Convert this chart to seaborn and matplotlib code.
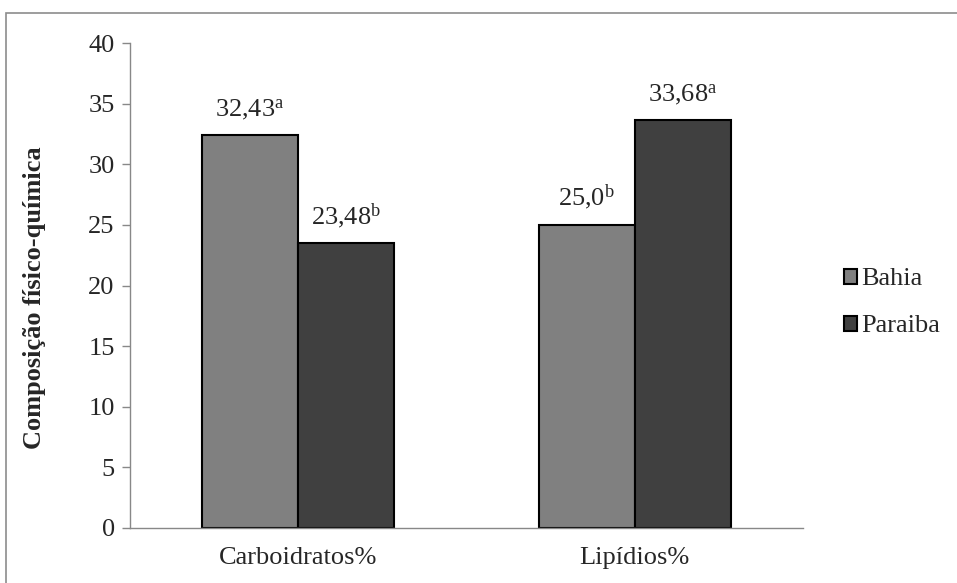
import matplotlib
matplotlib.use("Agg")
import matplotlib.pyplot as plt
from matplotlib.patches import Rectangle
import seaborn as sns
import pandas as pd

categories = ["Carboidratos%", "Lipídios%"]
bahia = [32.43, 25.0]
paraiba = [23.48, 33.68]
bahia_letters = ["a", "b"]
paraiba_letters = ["b", "a"]
bahia_text = ["32,43", "25,0"]
paraiba_text = ["23,48", "33,68"]
regions = ["Bahia", "Paraiba"]
colors = ["#808080", "#404040"]

df = pd.DataFrame({
    "categoria": categories * 2,
    "regiao": [regions[0]] * 2 + [regions[1]] * 2,
    "valor": bahia + paraiba,
})

sns.set_style("white")
plt.rcParams["font.family"] = ["Liberation Serif", "DejaVu Serif"]
plt.rcParams["mathtext.fontset"] = "custom"
plt.rcParams["mathtext.rm"] = "Liberation Serif"
plt.rcParams["mathtext.it"] = "Liberation Serif"

FS = 19

fig = plt.figure(figsize=(9.57, 5.83), dpi=100)
ax = fig.add_axes([130 / 957, 1 - 528 / 583, (803 - 130) / 957, (528 - 43) / 583])

sns.barplot(data=df, x="categoria", y="valor", hue="regiao", hue_order=regions,
            palette=colors, width=0.572, gap=0, edgecolor="black", linewidth=1.5,
            saturation=1, ax=ax, legend=True)

ax.set_ylim(0, 40)
ax.set_xlim(-0.5, 1.5)
ax.set_yticks(range(0, 41, 5))
ax.tick_params(axis="y", labelsize=FS, left=True, length=6, width=1, color="#888888", pad=5)
ax.tick_params(axis="x", labelsize=FS, bottom=False, pad=10)
ax.set_xlabel("")
ax.set_ylabel("Composição físico-química", fontsize=FS, fontweight="bold")
ax.yaxis.set_label_coords(-0.125, 0.475)

for s in ["top", "right"]:
    ax.spines[s].set_visible(False)
for s in ["left", "bottom"]:
    ax.spines[s].set_color("#888888")
    ax.spines[s].set_linewidth(1)

# value labels with significance letters
labels = {regions[0]: (bahia_text, bahia_letters), regions[1]: (paraiba_text, paraiba_letters)}
for container, reg in zip(ax.containers, regions):
    texts, letters = labels[reg]
    for bar, t, l in zip(container, texts, letters):
        x = bar.get_x() + bar.get_width() / 2
        y = bar.get_height()
        ax.annotate(t + r"$^{\mathrm{" + l + "}}$", (x, y), xytext=(0, 9),
                    textcoords="offset points", ha="center", va="bottom", fontsize=FS)

leg = ax.legend(loc="center left", bbox_to_anchor=(1.045, 0.464), frameon=False,
                fontsize=FS, handlelength=0.5, handleheight=0.5, handletextpad=0.15,
                labelspacing=0.95, borderaxespad=0)

fig.patches.append(Rectangle((6 / 957, -0.1), 1.2, 1 - 13 / 583 + 0.1,
                             transform=fig.transFigure, fill=False,
                             edgecolor="#8c8c8c", linewidth=1.2))

fig.savefig("out.png", dpi=100)
